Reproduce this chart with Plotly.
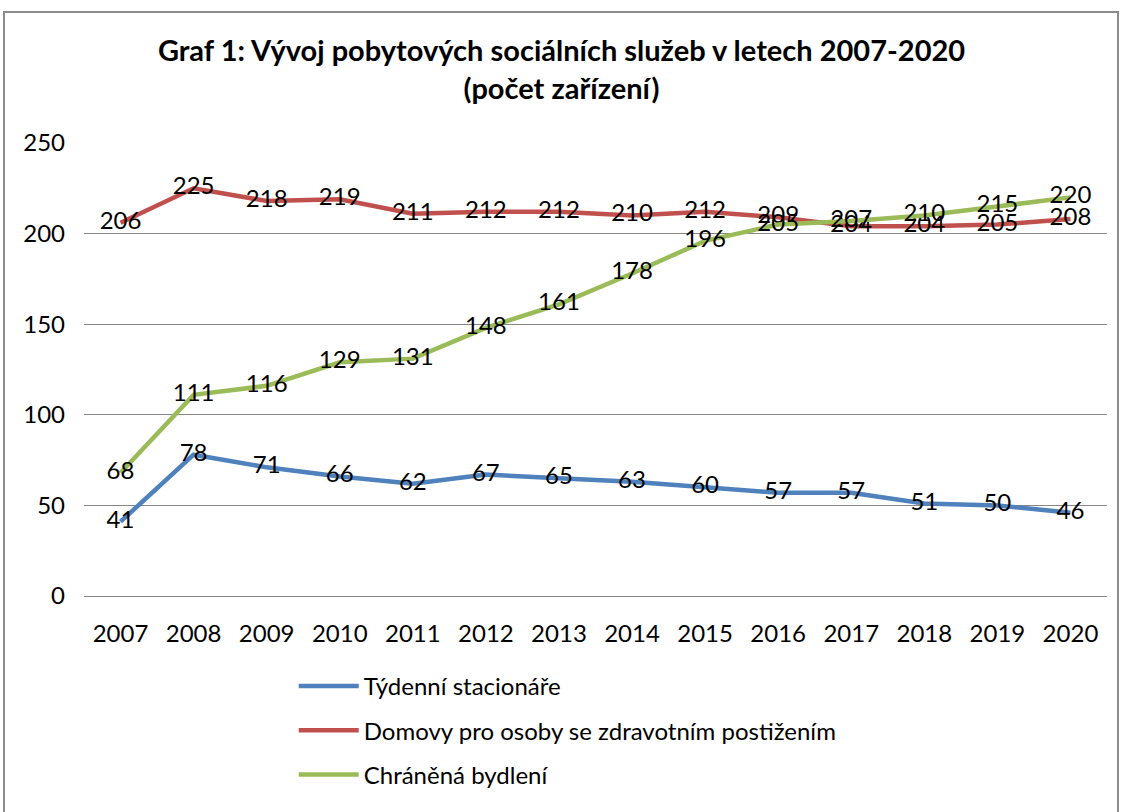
import plotly.graph_objects as go

years = [2007, 2008, 2009, 2010, 2011, 2012, 2013, 2014, 2015, 2016, 2017, 2018, 2019, 2020]
tydenni = [41, 78, 71, 66, 62, 67, 65, 63, 60, 57, 57, 51, 50, 46]
domovy = [206, 225, 218, 219, 211, 212, 212, 210, 212, 209, 204, 204, 205, 208]
chranena = [68, 111, 116, 129, 131, 148, 161, 178, 196, 205, 207, 210, 215, 220]

names = ["Týdenní stacionáře", "Domovy pro osoby se zdravotním postižením", "Chráněná bydlení"]
colors = ["#4F81BD", "#C0504D", "#9BBB59"]
series = [tydenni, domovy, chranena]

FONT = "Lato"
FS = 24
fig = go.Figure()
for i, (nm, vals, col) in enumerate(zip(names, series, colors)):
    fig.add_trace(go.Scatter(
        x=years, y=vals, name=nm, mode="lines+text",
        line=dict(color=col, width=4.5),
        text=[str(v) for v in vals], textposition="middle center",
        textfont=dict(family=FONT, size=FS, color="black"),
        legendgroup=str(i), cliponaxis=False,
    ))

fig.update_layout(
    width=1123, height=812,
    paper_bgcolor="white", plot_bgcolor="white",
    margin=dict(l=84, r=16, t=143, b=216),
    font=dict(family=FONT, size=FS, color="black"),
    title=dict(text="<b>Graf 1: Vývoj pobytových sociálních služeb v letech 2007-2020<br>(počet zařízení)</b>",
               x=0.5, xanchor="center", y=0.925, yanchor="top",
               font=dict(family=FONT, size=29, color="black")),
    showlegend=True,
    legend=dict(x=0.205, xanchor="left", y=-0.15, yanchor="top",
                font=dict(family=FONT, size=FS), tracegroupgap=10, itemwidth=60,
                bgcolor="rgba(0,0,0,0)"),
    xaxis=dict(range=[2006.5, 2020.5], tickmode="array", tickvals=years,
               ticktext=[str(y) for y in years], showgrid=False, zeroline=False,
               showline=False, ticks="", ticklabelstandoff=21, automargin=False,
               tickfont=dict(family=FONT, size=FS)),
    yaxis=dict(range=[0, 250], tickvals=[0, 50, 100, 150, 200, 250], showgrid=True,
               gridcolor="#868686", gridwidth=1, zeroline=True, zerolinecolor="#868686",
               zerolinewidth=1, showline=False, ticks="", ticklabelstandoff=18, automargin=False,
               tickfont=dict(family=FONT, size=FS)),
)

fig.add_shape(type="rect", xref="paper", yref="paper",
              x0=(4 - 84) / 1023, x1=(1118 - 84) / 1023,
              y0=-0.6, y1=(596 - 12) / 453,
              line=dict(color="#8c8c8c", width=2), fillcolor="rgba(0,0,0,0)", layer="below")

fig.write_html("out.html", config={"displayModeBar": False},
               post_script="document.body.style.margin='0';")
